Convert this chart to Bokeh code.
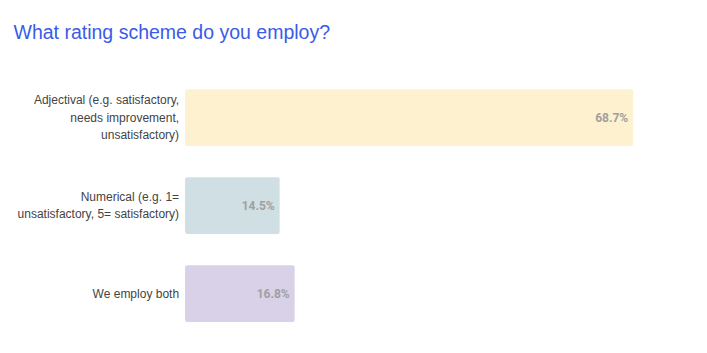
from bokeh.plotting import figure
from bokeh.models import ColumnDataSource, Range1d, Label
from bokeh.embed import file_html
from bokeh.resources import INLINE
from bokeh.core.properties import value

categories = ["Adjectival (e.g. satisfactory,\nneeds improvement,\nunsatisfactory)",
              "Numerical (e.g. 1=\nunsatisfactory, 5= satisfactory)",
              "We employ both"]
values = [68.7, 14.5, 16.8]
colors = ["#fef1cf", "#d0dfe3", "#d9d1e8"]
labels = ["68.7%", "14.5%", "16.8%"]
title_text = "What rating scheme do you employ?"

n = len(categories)
pos = [n - 1 - i for i in range(n)]  # top-to-bottom order
src = ColumnDataSource(dict(cat=categories, pos=pos, val=values, color=colors,
                            label=labels, zero=[0] * n))

p = figure(width=707, height=353, output_backend="svg", toolbar_location=None,
           x_range=Range1d(-28.3, 80.1), y_range=Range1d(-0.68, 3.33),
           min_border_left=0, min_border_right=0, min_border_top=0, min_border_bottom=0)
p.hbar(y="pos", right="val", left=0, height=0.645, fill_color="color", line_color=None,
       source=src, border_radius=2)
p.text(x="val", y="pos", text="label", source=src, x_offset=-5, text_align="right",
       text_baseline="middle", text_font=value("Roboto"), text_font_style="bold",
       text_font_size="12px", text_color="#a0a0a0")
p.text(x="zero", y="pos", text="cat", source=src, x_offset=-6, text_align="right",
       text_baseline="middle", text_font=value("Liberation Sans"),
       text_font_size="12px", text_color="#444444", text_line_height=1.25)

p.xaxis.visible = False
p.yaxis.visible = False
p.xgrid.visible = False
p.ygrid.visible = False
p.outline_line_color = None

title = Label(x=13, y=353 - 31, x_units="screen", y_units="screen", text=title_text,
              text_font="Liberation Sans", text_font_size="19.5px", text_color="#3a5be8",
              text_baseline="middle", text_align="left")
p.add_layout(title)

open("out.html", "w").write(file_html(p, INLINE))
